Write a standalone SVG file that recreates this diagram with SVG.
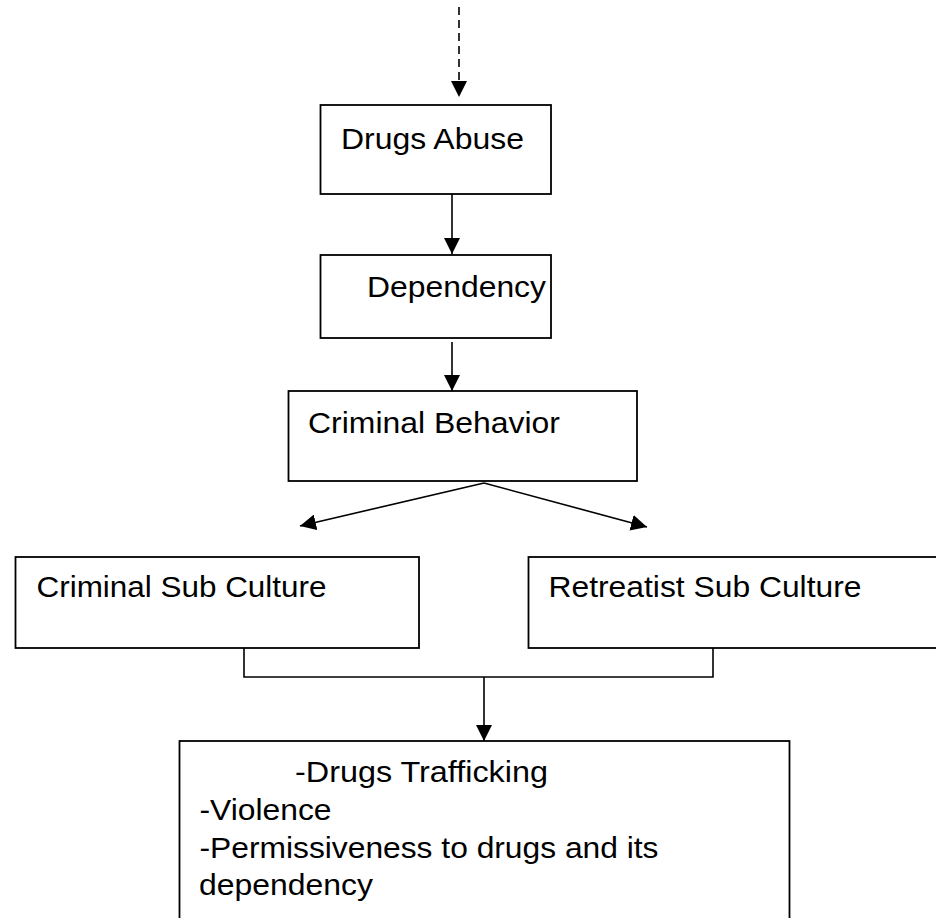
<svg xmlns="http://www.w3.org/2000/svg" width="936" height="918" viewBox="0 0 936 918">
<style>
.box{fill:#fff;stroke:#000;stroke-width:1.8}
.t{font-family:"Liberation Sans",Arial,sans-serif;font-size:29.5px;fill:#000}
.c{fill:none;stroke:#000;stroke-width:1.6}
</style>
<defs>
<marker id="ah" markerUnits="userSpaceOnUse" markerWidth="16" markerHeight="16" viewBox="0 0 16 16" refX="16" refY="8" orient="auto">
<path d="M0,0 L16,8 L0,16 z" fill="#000"/>
</marker>
</defs>
<rect width="936" height="918" fill="#fff"/>
<g id="connectors">
<line class="c" x1="459" y1="7" x2="459" y2="97" stroke-dasharray="8,5" marker-end="url(#ah)"/>
<line class="c" x1="452" y1="194" x2="452" y2="254" marker-end="url(#ah)"/>
<line class="c" x1="452" y1="342" x2="452" y2="391" marker-end="url(#ah)"/>
<line class="c" x1="484" y1="483" x2="300" y2="526" marker-end="url(#ah)"/>
<line class="c" x1="484" y1="483" x2="647" y2="527" marker-end="url(#ah)"/>
<polyline class="c" points="244,648 244,677 713,677 713,648"/>
<line class="c" x1="484" y1="677" x2="484" y2="741" marker-end="url(#ah)"/>
</g>
<g id="drugs-abuse">
<rect class="box" x="320.5" y="105" width="230.5" height="89"/>
<text class="t" x="341" y="148.5" textLength="183" lengthAdjust="spacingAndGlyphs">Drugs Abuse</text>
</g>
<g id="dependency">
<rect class="box" x="320.5" y="255" width="230.5" height="83"/>
<text class="t" x="367" y="296.7" textLength="179" lengthAdjust="spacingAndGlyphs">Dependency</text>
</g>
<g id="criminal-behavior">
<rect class="box" x="288.5" y="391" width="348.5" height="90"/>
<text class="t" x="308" y="433.3" textLength="252" lengthAdjust="spacingAndGlyphs">Criminal Behavior</text>
</g>
<g id="criminal-sub-culture">
<rect class="box" x="15.5" y="557" width="403.5" height="91"/>
<text class="t" x="36.5" y="596.7" textLength="290" lengthAdjust="spacingAndGlyphs">Criminal Sub Culture</text>
</g>
<g id="retreatist-sub-culture">
<rect class="box" x="528.5" y="557" width="420" height="91"/>
<text class="t" x="548.5" y="597.3" textLength="313" lengthAdjust="spacingAndGlyphs">Retreatist Sub Culture</text>
</g>
<g id="outcomes">
<rect class="box" x="179.5" y="741" width="610" height="200"/>
<text class="t" x="295" y="782" textLength="253" lengthAdjust="spacingAndGlyphs">-Drugs Trafficking</text>
<text class="t" x="199.5" y="820" textLength="132" lengthAdjust="spacingAndGlyphs">-Violence</text>
<text class="t" x="199.5" y="857.7" textLength="459" lengthAdjust="spacingAndGlyphs">-Permissiveness to drugs and its</text>
<text class="t" x="199" y="895" textLength="174" lengthAdjust="spacingAndGlyphs">dependency</text>
</g>
</svg>
